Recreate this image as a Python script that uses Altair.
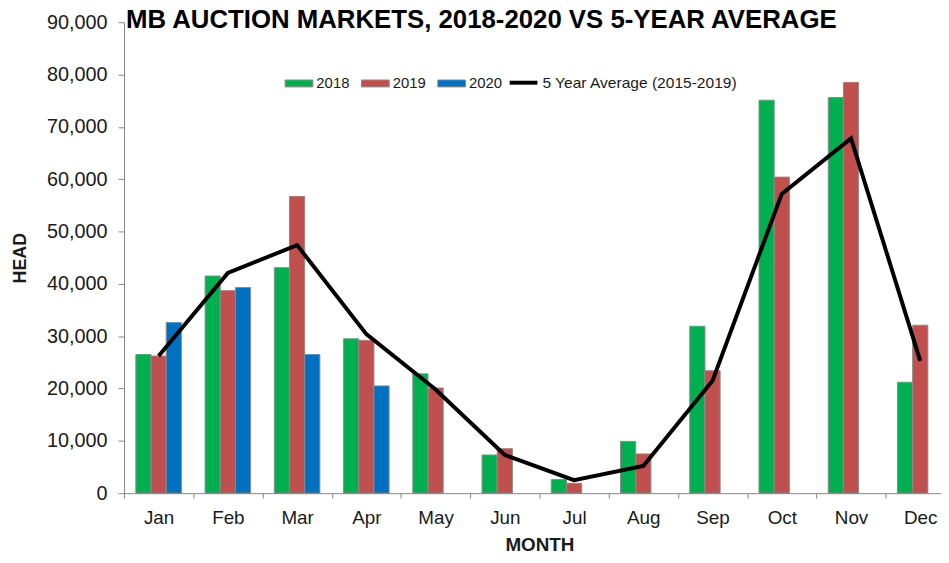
import altair as alt
import pandas as pd

months = ["Jan", "Feb", "Mar", "Apr", "May", "Jun", "Jul", "Aug", "Sep", "Oct", "Nov", "Dec"]
v2018 = [26500, 41500, 43100, 29500, 22800, 7300, 2600, 9900, 31900, 75100, 75600, 21200]
v2019 = [26200, 38700, 56700, 29200, 20100, 8500, 1900, 7500, 23400, 60400, 78500, 32100]
v2020 = [32600, 39300, 26500, 20500]
avg5 = [26200, 42100, 47400, 30400, 19800, 7300, 2500, 5200, 21500, 57200, 67800, 25300]
years = ["2018", "2019", "2020"]
avg_label = "5 Year Average (2015-2019)"
colors = ["#00B050", "#C0504D", "#0070C0"]
title_text = "MB AUCTION MARKETS, 2018-2020 VS 5-YEAR AVERAGE"

rows = []
for yr, vals in zip(years, [v2018, v2019, v2020]):
    for m, v in zip(months, vals):
        rows.append({"month": m, "year": yr, "head": v})
bars_df = pd.DataFrame(rows)
avg_df = pd.DataFrame({"month": months, "head": avg5, "series": [avg_label] * len(months)})
title_df = pd.DataFrame({"t": [title_text]})

FONT = "Liberation Sans"
# the reference is cropped on the right: the last band runs past the picture edge
xscale = alt.Scale(domain=months, paddingInner=0, paddingOuter=0, rangeMin=0, rangeMax=838)
yscale = alt.Scale(domain=[0, 90000], nice=False)

x_axis = alt.Axis(title="MONTH", labelAngle=0, tickBand="extent", labelFontSize=19,
                  labelFont=FONT, labelColor="#1a1a1a", labelPadding=11, tickSize=5,
                  titleFont=FONT, titleFontSize=19, titleFontWeight="bold",
                  titleColor="#1a1a1a", titlePadding=8, domainColor="#868686",
                  tickColor="#868686", grid=False)
y_axis = alt.Axis(title="HEAD", values=list(range(0, 90001, 10000)), format=",.0f",
                  labelFontSize=20, labelFont=FONT, labelColor="#1a1a1a",
                  labelPadding=11, tickSize=6, titleFont=FONT, titleFontSize=18,
                  titleFontWeight="bold", titleColor="#1a1a1a", titlePadding=17,
                  domainColor="#868686", tickColor="#868686", grid=False)

bars = alt.Chart(bars_df).mark_bar(stroke="#8a8a8a", strokeWidth=1).encode(
    x=alt.X("month:N", scale=xscale, axis=x_axis, sort=months),
    xOffset=alt.XOffset("year:N", scale=alt.Scale(domain=years, paddingInner=0, paddingOuter=0.78)),
    y=alt.Y("head:Q", scale=yscale, axis=y_axis),
    color=alt.Color("year:N", scale=alt.Scale(domain=years, range=colors),
                    legend=alt.Legend(orient="none", legendX=162, legendY=47,
                                      direction="horizontal", title=None,
                                      symbolType="M-1,-0.25H1V0.25H-1Z", symbolSize=784,
                                      symbolStrokeColor="#8a8a8a", symbolStrokeWidth=1,
                                      symbolOpacity=1, labelFont=FONT, labelFontSize=15,
                                      labelColor="#1a1a1a", labelOffset=3,
                                      columnPadding=9, padding=0)),
)

line = alt.Chart(avg_df).mark_line(strokeWidth=4, color="black").encode(
    x=alt.X("month:N", scale=xscale, sort=months),
    y=alt.Y("head:Q", scale=yscale),
    stroke=alt.Stroke("series:N", scale=alt.Scale(domain=[avg_label], range=["black"]),
                      legend=alt.Legend(orient="none", legendX=387, legendY=45,
                                        direction="horizontal", title=None,
                                        symbolType="stroke", symbolSize=784,
                                        symbolStrokeWidth=4, labelFont=FONT,
                                        labelFontSize=15.7, labelColor="#1a1a1a",
                                        labelOffset=3, labelLimit=400, padding=0)),
)

title = alt.Chart(title_df).mark_text(
    font=FONT, fontSize=26, fontWeight="bold", color="black",
    align="left", baseline="alphabetic"
).encode(text="t:N", x=alt.value(2), y=alt.value(6))

chart = alt.layer(bars, line, title).properties(
    width=824, height=475,
    autosize=alt.AutoSizeParams(type="none"),
    padding={"left": 117, "top": 12, "right": 0, "bottom": 60},
).configure_view(stroke=None).resolve_scale(color="independent")

chart.save("out.html", embed_options={"renderer": "svg", "actions": False})
